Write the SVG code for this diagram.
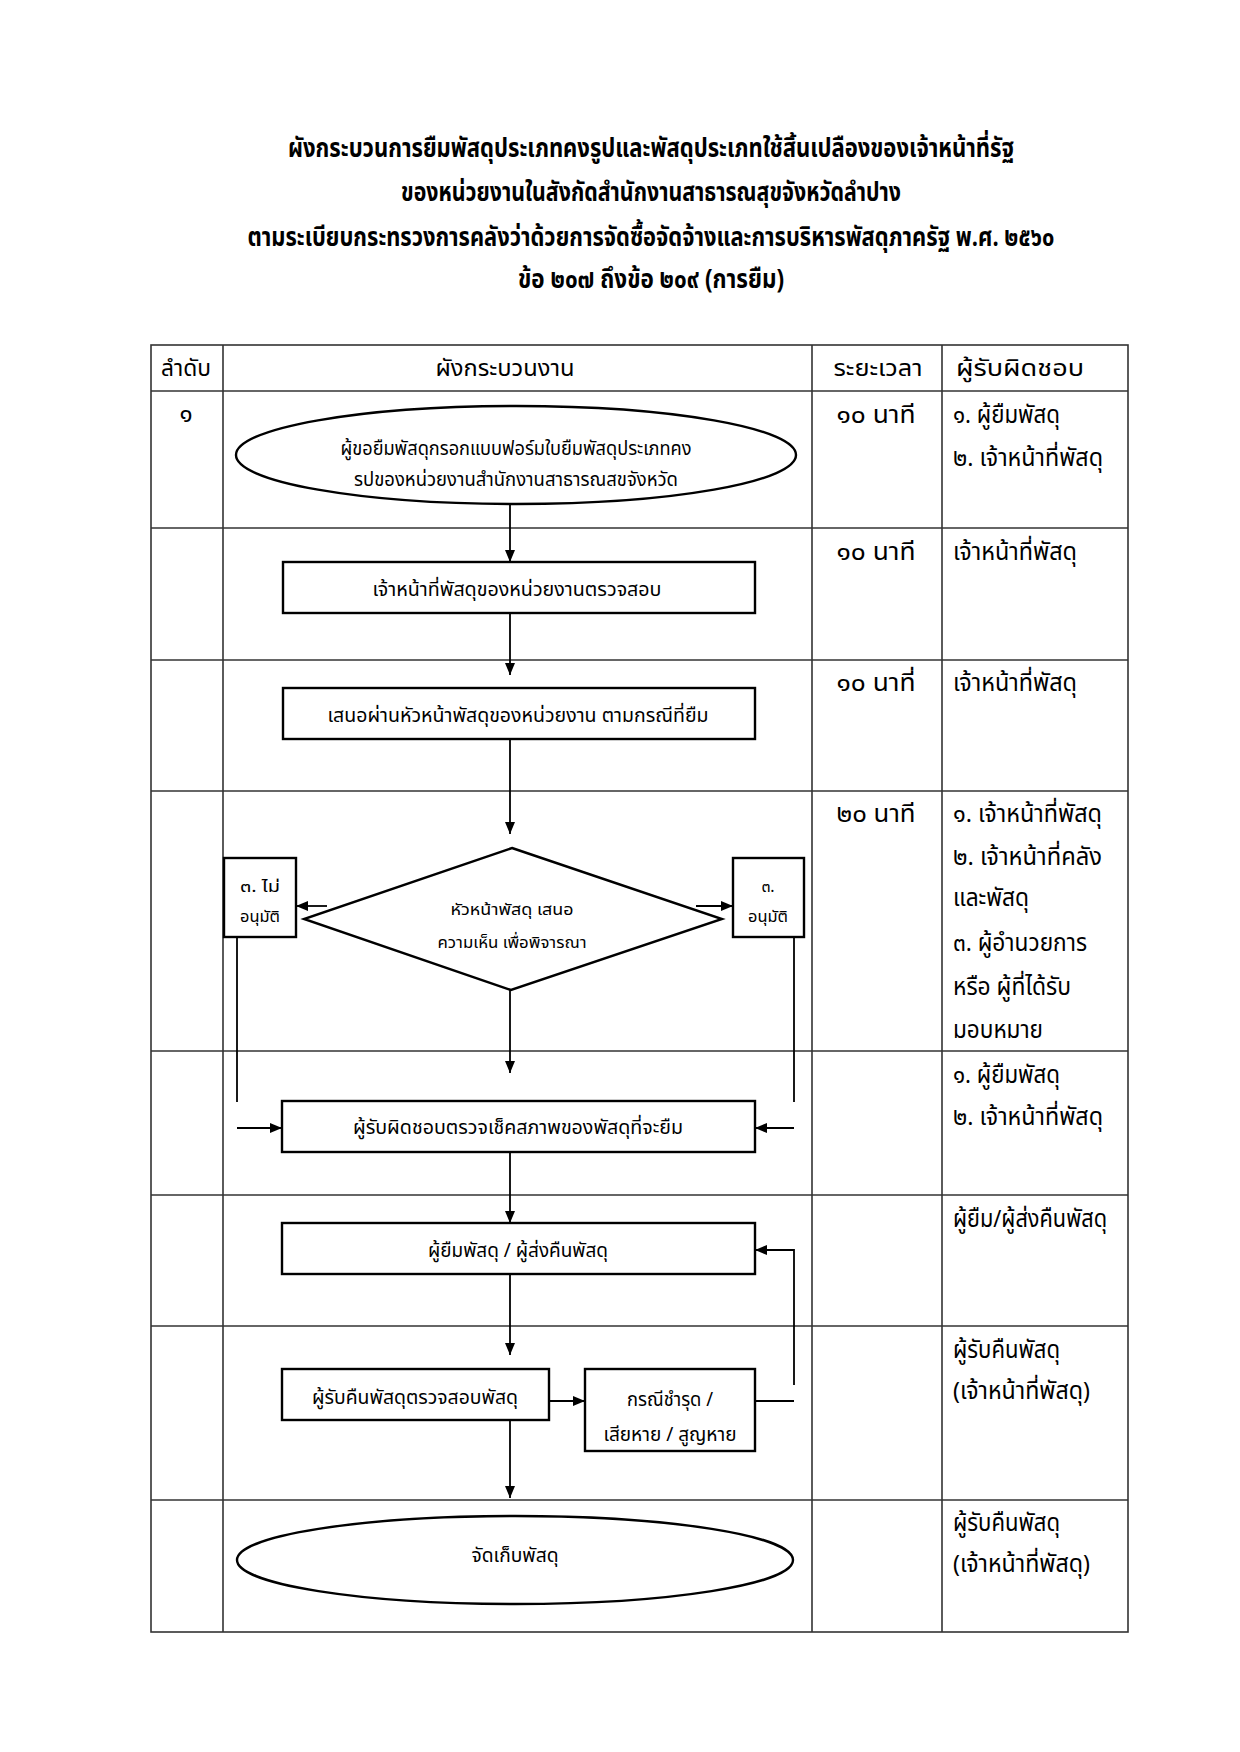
<svg xmlns="http://www.w3.org/2000/svg" width="1240" height="1752" viewBox="0 0 1240 1752">
<style>
text { font-family: "Noto Sans Thai", "Noto Sans Thai UI", "Loma", "Garuda", "Noto Sans", "DejaVu Sans", sans-serif; fill: #000; }
.title { font-size: 26px; font-weight: bold; text-anchor: middle; }
.cell { font-size: 24px; }
.hd { font-size: 23px; text-anchor: middle; }
.tm { font-size: 24px; text-anchor: middle; }
.box { font-size: 19px; text-anchor: middle; }
.sm { font-size: 16px; text-anchor: middle; }
.grid { stroke: #333; stroke-width: 1.6; fill: none; }
.shape { fill: #fff; stroke: #000; stroke-width: 2.4; }
.conn { stroke: #000; stroke-width: 1.8; fill: none; }
.arr { marker-end: url(#ah); }
</style>
<defs>
<marker id="ah" markerUnits="userSpaceOnUse" markerWidth="12" markerHeight="10" refX="12" refY="5" orient="auto">
<path d="M0,0 L12,5 L0,10 z" fill="#000"/>
</marker>
<clipPath id="clipE1"><rect x="236" y="462" width="560" height="25"/></clipPath>
</defs>
<rect width="1240" height="1752" fill="#fff"/>

<g id="title">
<text class="title" x="651" y="157" textLength="726" lengthAdjust="spacingAndGlyphs">ผังกระบวนการยืมพัสดุประเภทคงรูปและพัสดุประเภทใช้สิ้นเปลืองของเจ้าหน้าที่รัฐ</text>
<text class="title" x="651" y="201" textLength="500" lengthAdjust="spacingAndGlyphs">ของหน่วยงานในสังกัดสำนักงานสาธารณสุขจังหวัดลำปาง</text>
<text class="title" x="651" y="246" textLength="807" lengthAdjust="spacingAndGlyphs">ตามระเบียบกระทรวงการคลังว่าด้วยการจัดซื้อจัดจ้างและการบริหารพัสดุภาครัฐ พ.ศ. ๒๕๖๐</text>
<text class="title" x="651" y="288" textLength="266" lengthAdjust="spacingAndGlyphs">ข้อ ๒๐๗ ถึงข้อ ๒๐๙ (การยืม)</text>
</g>

<g id="table">
<rect class="grid" x="151" y="345" width="977" height="1287"/>
<line class="grid" x1="223" y1="345" x2="223" y2="1632"/>
<line class="grid" x1="812" y1="345" x2="812" y2="1632"/>
<line class="grid" x1="942" y1="345" x2="942" y2="1632"/>
<line class="grid" x1="151" y1="391" x2="1128" y2="391"/>
<line class="grid" x1="151" y1="528" x2="1128" y2="528"/>
<line class="grid" x1="151" y1="660" x2="1128" y2="660"/>
<line class="grid" x1="151" y1="791" x2="1128" y2="791"/>
<line class="grid" x1="151" y1="1051" x2="1128" y2="1051"/>
<line class="grid" x1="151" y1="1195" x2="1128" y2="1195"/>
<line class="grid" x1="151" y1="1326" x2="1128" y2="1326"/>
<line class="grid" x1="151" y1="1500" x2="1128" y2="1500"/>
<text class="hd" x="186" y="376" textLength="50" lengthAdjust="spacingAndGlyphs">ลำดับ</text>
<text class="hd" x="505" y="376" textLength="139" lengthAdjust="spacingAndGlyphs">ผังกระบวนงาน</text>
<text class="hd" x="878" y="376" textLength="89" lengthAdjust="spacingAndGlyphs">ระยะเวลา</text>
<text class="hd" x="1020" y="376" textLength="128" lengthAdjust="spacingAndGlyphs">ผู้รับผิดชอบ</text>
</g>

<g id="col-order">
<text class="tm" x="186" y="422">๑</text>
</g>

<g id="col-time">
<text class="tm" x="876" y="423" textLength="79" lengthAdjust="spacingAndGlyphs">๑๐ นาที</text>
<text class="tm" x="876" y="560" textLength="79" lengthAdjust="spacingAndGlyphs">๑๐ นาที</text>
<text class="tm" x="876" y="691" textLength="79" lengthAdjust="spacingAndGlyphs">๑๐ นาที่</text>
<text class="tm" x="876" y="822" textLength="79" lengthAdjust="spacingAndGlyphs">๒๐ นาที</text>
</g>

<g id="col-resp">
<text class="cell" x="953" y="423" textLength="107" lengthAdjust="spacingAndGlyphs">๑. ผู้ยืมพัสดุ</text>
<text class="cell" x="953" y="466" textLength="150" lengthAdjust="spacingAndGlyphs">๒. เจ้าหน้าที่พัสดุ</text>
<text class="cell" x="953" y="560" textLength="124" lengthAdjust="spacingAndGlyphs">เจ้าหน้าที่พัสดุ</text>
<text class="cell" x="953" y="691" textLength="124" lengthAdjust="spacingAndGlyphs">เจ้าหน้าที่พัสดุ</text>
<text class="cell" x="953" y="822" textLength="149" lengthAdjust="spacingAndGlyphs">๑. เจ้าหน้าที่พัสดุ</text>
<text class="cell" x="953" y="865" textLength="149" lengthAdjust="spacingAndGlyphs">๒. เจ้าหน้าที่คลัง</text>
<text class="cell" x="953" y="906" textLength="76" lengthAdjust="spacingAndGlyphs">และพัสดุ</text>
<text class="cell" x="953" y="951" textLength="134" lengthAdjust="spacingAndGlyphs">๓. ผู้อำนวยการ</text>
<text class="cell" x="953" y="995" textLength="118" lengthAdjust="spacingAndGlyphs">หรือ ผู้ที่ได้รับ</text>
<text class="cell" x="953" y="1038" textLength="90" lengthAdjust="spacingAndGlyphs">มอบหมาย</text>
<text class="cell" x="953" y="1083" textLength="107" lengthAdjust="spacingAndGlyphs">๑. ผู้ยืมพัสดุ</text>
<text class="cell" x="953" y="1125" textLength="150" lengthAdjust="spacingAndGlyphs">๒. เจ้าหน้าที่พัสดุ</text>
<text class="cell" x="953" y="1227" textLength="154" lengthAdjust="spacingAndGlyphs">ผู้ยืม/ผู้ส่งคืนพัสดุ</text>
<text class="cell" x="953" y="1358" textLength="107" lengthAdjust="spacingAndGlyphs">ผู้รับคืนพัสดุ</text>
<text class="cell" x="953" y="1399" textLength="137" lengthAdjust="spacingAndGlyphs">(เจ้าหน้าที่พัสดุ)</text>
<text class="cell" x="953" y="1531" textLength="107" lengthAdjust="spacingAndGlyphs">ผู้รับคืนพัสดุ</text>
<text class="cell" x="953" y="1572" textLength="137" lengthAdjust="spacingAndGlyphs">(เจ้าหน้าที่พัสดุ)</text>
</g>

<g id="connectors">
<path class="conn arr" d="M510,503 V562"/>
<path class="conn arr" d="M510,613 V675"/>
<path class="conn arr" d="M510,739 V834"/>
<path class="conn arr" d="M327,906 H296"/>
<path class="conn arr" d="M696,906 H733"/>
<path class="conn" d="M237,937 V1102"/>
<path class="conn arr" d="M237,1128 H282"/>
<path class="conn" d="M794,937 V1102"/>
<path class="conn arr" d="M794,1128 H755"/>
<path class="conn arr" d="M510,990 V1073"/>
<path class="conn arr" d="M510,1152 V1223"/>
<path class="conn arr" d="M794,1385 V1250 H755"/>
<path class="conn arr" d="M510,1274 V1355"/>
<path class="conn arr" d="M549,1401 H585"/>
<path class="conn" d="M755,1401 H794"/>
<path class="conn arr" d="M510,1420 V1498"/>
</g>

<g id="n1-start">
<ellipse class="shape" cx="516" cy="455" rx="280" ry="49"/>
<text class="box" x="516" y="455" textLength="351" lengthAdjust="spacingAndGlyphs">ผู้ขอยืมพัสดุกรอกแบบฟอร์มใบยืมพัสดุประเภทคง</text>
<text class="box" x="516" y="486" textLength="324" lengthAdjust="spacingAndGlyphs" clip-path="url(#clipE1)">รูปของหน่วยงานสำนักงานสาธารณสุขจังหวัด</text>
</g>

<g id="n2-check">
<rect class="shape" x="283" y="562" width="472" height="51"/>
<text class="box" x="517" y="596" textLength="289" lengthAdjust="spacingAndGlyphs">เจ้าหน้าที่พัสดุของหน่วยงานตรวจสอบ</text>
</g>

<g id="n3-propose">
<rect class="shape" x="283" y="688" width="472" height="51"/>
<text class="box" x="518" y="722" textLength="381" lengthAdjust="spacingAndGlyphs">เสนอผ่านหัวหน้าพัสดุของหน่วยงาน ตามกรณีที่ยืม</text>
</g>

<g id="n4-decision">
<polygon class="shape" points="512,848 722,919 511,990 304,919"/>
<text class="sm" x="512" y="915" textLength="123" lengthAdjust="spacingAndGlyphs">หัวหน้าพัสดุ เสนอ</text>
<text class="sm" x="512" y="948" textLength="149" lengthAdjust="spacingAndGlyphs">ความเห็น เพื่อพิจารณา</text>
</g>

<g id="n4-reject">
<rect class="shape" x="224" y="858" width="72" height="79"/>
<text class="sm" x="260" y="892" textLength="40" lengthAdjust="spacingAndGlyphs">๓. ไม่</text>
<text class="sm" x="260" y="922" textLength="40" lengthAdjust="spacingAndGlyphs">อนุมัติ</text>
</g>

<g id="n4-approve">
<rect class="shape" x="733" y="858" width="71" height="79"/>
<text class="sm" x="768" y="892">๓.</text>
<text class="sm" x="768" y="922" textLength="40" lengthAdjust="spacingAndGlyphs">อนุมัติ</text>
</g>

<g id="n5-inspect">
<rect class="shape" x="282" y="1101" width="473" height="51"/>
<text class="box" x="518" y="1134" textLength="330" lengthAdjust="spacingAndGlyphs">ผู้รับผิดชอบตรวจเช็คสภาพของพัสดุที่จะยืม</text>
</g>

<g id="n6-borrower">
<rect class="shape" x="282" y="1223" width="473" height="51"/>
<text class="box" x="518" y="1257" textLength="180" lengthAdjust="spacingAndGlyphs">ผู้ยืมพัสดุ / ผู้ส่งคืนพัสดุ</text>
</g>

<g id="n7-receive">
<rect class="shape" x="282" y="1369" width="267" height="51"/>
<text class="box" x="415" y="1404" textLength="206" lengthAdjust="spacingAndGlyphs">ผู้รับคืนพัสดุตรวจสอบพัสดุ</text>
</g>

<g id="n7-damage">
<rect class="shape" x="585" y="1369" width="170" height="82"/>
<text class="box" x="670" y="1406" textLength="86" lengthAdjust="spacingAndGlyphs">กรณีชำรุด /</text>
<text class="box" x="670" y="1441" textLength="133" lengthAdjust="spacingAndGlyphs">เสียหาย / สูญหาย</text>
</g>

<g id="n8-store">
<ellipse class="shape" cx="515" cy="1560" rx="278" ry="44"/>
<text class="box" x="515" y="1562" textLength="87" lengthAdjust="spacingAndGlyphs">จัดเก็บพัสดุ</text>
</g>
</svg>
